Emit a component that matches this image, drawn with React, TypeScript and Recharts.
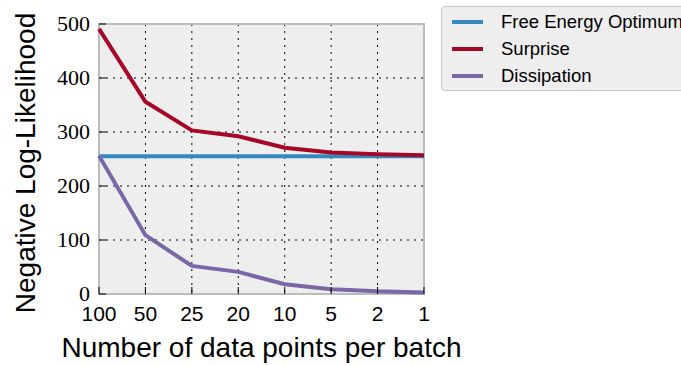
import React from 'react';
import { LineChart, Line, XAxis, YAxis, CartesianGrid, ReferenceArea } from 'recharts';

const categories = ['100', '50', '25', '20', '10', '5', '2', '1'];
const freeEnergyOptimum = [255, 255, 255, 255, 255, 255, 255, 255];
const surprise = [491, 356, 303, 292, 271, 262, 259, 257];
const dissipation = [256, 109, 52, 41, 18, 9, 5, 3];
const yTicks = [0, 100, 200, 300, 400, 500];

const seriesKeys = ['fe', 's', 'd'];
const seriesNames = ['Free Energy Optimum', 'Surprise', 'Dissipation'];
const seriesColors = ['#348ABD', '#A60628', '#7A68A6'];

const data = categories.map((c, i) => ({
  batch: c,
  fe: freeEnergyOptimum[i],
  s: surprise[i],
  d: dissipation[i],
}));

const SANS = '"Liberation Sans", Arial, Helvetica, sans-serif';
const SERIF = '"Times New Roman", "Liberation Serif", Times, serif';
const TICK_LEN = 7;

const BottomTick = (props: any) => {
  const { x, y, payload } = props;
  return (
    <g>
      <line x1={x} y1={y} x2={x} y2={y - TICK_LEN} stroke="#000" strokeWidth={1} />
      <text x={x} y={y + 27} textAnchor="middle" style={{ fontFamily: SANS, fontSize: 21 }} fill="#000">
        {payload.value}
      </text>
    </g>
  );
};

const TopTick = (props: any) => {
  const { x, y } = props;
  return <line x1={x} y1={y} x2={x} y2={y + TICK_LEN} stroke="#000" strokeWidth={1} />;
};

const LeftTick = (props: any) => {
  const { x, y, payload } = props;
  return (
    <g>
      <line x1={x} y1={y} x2={x + TICK_LEN} y2={y} stroke="#000" strokeWidth={1} />
      <text
        x={x - 9}
        y={y + 7}
        textAnchor="end"
        style={{ fontFamily: SERIF, fontSize: 22 }}
        fill="#000"
      >
        {payload.value}
      </text>
    </g>
  );
};

const RightTick = (props: any) => {
  const { x, y } = props;
  return <line x1={x} y1={y} x2={x - TICK_LEN} y2={y} stroke="#000" strokeWidth={1} />;
};

const YTitle = (props: any) => {
  const vb = props.viewBox || {};
  const cy = (vb.y ?? 24) + (vb.height ?? 270) / 2 + 4;
  return (
    <text
      x={35}
      y={cy}
      transform={`rotate(-90 35 ${cy})`}
      textAnchor="middle"
      style={{ fontFamily: SANS, fontSize: 28 }}
      fill="#000"
    >
      Negative Log-Likelihood
    </text>
  );
};

const XTitle = (props: any) => {
  const vb = props.viewBox || {};
  const cx = (vb.x ?? 99) + (vb.width ?? 325) / 2;
  return (
    <text x={cx} y={357} textAnchor="middle" style={{ fontFamily: SANS, fontSize: 28 }} fill="#000">
      Number of data points per batch
    </text>
  );
};

export default function App() {
  return (
    <div style={{ position: 'absolute', left: 0, top: 0, width: 681, height: 365, overflow: 'hidden', background: '#fff' }}>
      <LineChart width={681} height={365} data={data} margin={{ top: 24, right: 257, bottom: 31, left: 49 }}>
        <CartesianGrid stroke="#000" strokeDasharray="2 5" strokeWidth={1} fill="#eeeeee" />
        <ReferenceArea
          x1="100"
          x2="1"
          y1={0}
          y2={500}
          fill="none"
          fillOpacity={0}
          stroke="#bcbcbc"
          strokeWidth={2}
          ifOverflow="visible"
        />
        <XAxis
          dataKey="batch"
          type="category"
          interval={0}
          height={40}
          axisLine={false}
          tickLine={false}
          tickSize={0}
          tickMargin={0}
          tick={<BottomTick />}
          label={<XTitle />}
        />
        <XAxis
          xAxisId="top"
          dataKey="batch"
          type="category"
          orientation="top"
          interval={0}
          height={0}
          axisLine={false}
          tickLine={false}
          tickSize={0}
          tickMargin={0}
          tick={<TopTick />}
        />
        <YAxis
          domain={[0, 500]}
          ticks={yTicks}
          interval={0}
          width={50}
          axisLine={false}
          tickLine={false}
          tickSize={0}
          tickMargin={0}
          tick={<LeftTick />}
          label={<YTitle />}
        />
        <YAxis
          yAxisId="right"
          orientation="right"
          domain={[0, 500]}
          ticks={yTicks}
          interval={0}
          width={0}
          axisLine={false}
          tickLine={false}
          tickSize={0}
          tickMargin={0}
          tick={<RightTick />}
        />
        {seriesKeys.map((k, i) => (
          <Line
            key={k}
            dataKey={k}
            name={seriesNames[i]}
            stroke={seriesColors[i]}
            strokeWidth={4}
            dot={false}
            activeDot={false}
            isAnimationActive={false}
            type="linear"
          />
        ))}
      </LineChart>
      <div
        style={{
          position: 'absolute',
          left: 441,
          top: 6,
          width: 270,
          height: 85,
          boxSizing: 'border-box',
          border: '1px solid #c8c8c8',
          borderRadius: 4,
          background: '#eeeeee',
        }}
      >
        {seriesNames.map((n, i) => (
          <div
            key={n}
            style={{
              position: 'absolute',
              left: 0,
              top: 1 + i * 27,
              height: 27,
              display: 'flex',
              alignItems: 'center',
              whiteSpace: 'nowrap',
            }}
          >
            <div style={{ width: 31, height: 4, marginLeft: 10, background: seriesColors[i] }} />
            <span style={{ marginLeft: 18, fontFamily: SANS, fontSize: 18.5, color: '#000' }}>{n}</span>
          </div>
        ))}
      </div>
    </div>
  );
}
